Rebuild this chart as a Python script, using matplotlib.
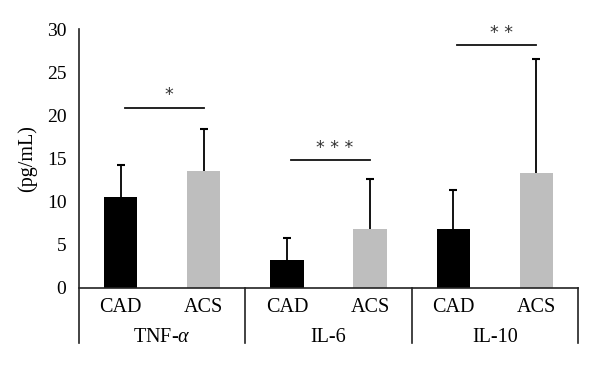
import matplotlib
matplotlib.use("Agg")
import matplotlib.pyplot as plt
from matplotlib.lines import Line2D
import numpy as np

categories = ["TNF-$\\alpha$", "IL-6", "IL-10"]
groups = ["CAD", "ACS"]
cad_means = [10.5, 3.2, 6.8]
cad_sd = [3.7, 2.6, 4.5]
acs_means = [13.6, 6.8, 13.35]
acs_sd = [4.8, 5.8, 13.15]
sig_labels = ["*", "* * *", "* *"]
sig_heights = [20.9, 14.8, 28.1]
yticks = [0, 5, 10, 15, 20, 25, 30]

plt.rcParams['font.family'] = ['Liberation Serif', 'DejaVu Serif']
plt.rcParams['mathtext.fontset'] = 'custom'
plt.rcParams['mathtext.it'] = 'Liberation Serif:italic'
plt.rcParams['mathtext.rm'] = 'Liberation Serif'

fig = plt.figure(figsize=(6.0, 3.65), dpi=100)
ax = fig.add_axes([79/600, 1-288/365, 499/600, 259/365])

x_cad = np.arange(len(categories)) * 2 + 0.5
x_acs = x_cad + 1
w = 0.4
ax.bar(x_cad, cad_means, width=w, color='black', zorder=2)
ax.bar(x_acs, acs_means, width=w, color='#BEBEBE', zorder=2)

def upper_err(xs, means, sds):
    means = np.asarray(means)
    tops = means + np.asarray(sds)
    ax.vlines(xs, means, tops, color='black', lw=1.3, zorder=3)
    ax.plot(xs, tops, ls='none', marker='_', ms=6, mew=1.5, color='black', zorder=3)

upper_err(x_cad, cad_means, cad_sd)
upper_err(x_acs, acs_means, acs_sd)

for i in range(len(categories)):
    x0 = x_cad[i] + 0.05
    x1 = x_acs[i]
    ax.plot([x0, x1], [sig_heights[i], sig_heights[i]], color='#111111', lw=1.3)
    ax.text((x0 + x1) / 2 + 0.05, sig_heights[i] + 0.4, sig_labels[i],
            ha='center', va='bottom', fontsize=12.5, color='#333333',
            family='DejaVu Sans')

ax.set_xlim(0, 6)
ax.set_ylim(0, 30)
ax.set_yticks(yticks)
ax.set_yticklabels([str(t) for t in yticks], fontsize=14)
ax.tick_params(axis='y', length=0, pad=9)
ax.set_xticks([])
for s in ['top', 'right', 'left', 'bottom']:
    ax.spines[s].set_visible(False)
ax.set_ylabel("(pg/mL)", fontsize=14.5, labelpad=7)

lw = 1.2
trans = ax.get_xaxis_transform()
ybot = -55/259
ax.add_line(Line2D([0, 6], [0, 0], transform=trans, color='#222222', lw=lw, clip_on=False))
ax.add_line(Line2D([0, 0], [ybot, 1.0], transform=trans, color='#222222', lw=lw, clip_on=False))
for xd in [2, 4, 6]:
    ax.add_line(Line2D([xd, xd], [ybot, 0], transform=trans, color='#222222', lw=lw, clip_on=False))

for i in range(len(categories)):
    ax.text(x_cad[i], -19/259, groups[0], transform=trans, ha='center', va='center', fontsize=14.5)
    ax.text(x_acs[i], -19/259, groups[1], transform=trans, ha='center', va='center', fontsize=14.5)
    ax.text(x_cad[i] + 0.5, -49/259, categories[i], transform=trans, ha='center', va='center', fontsize=14.5)

fig.savefig("out.png", dpi=100)
